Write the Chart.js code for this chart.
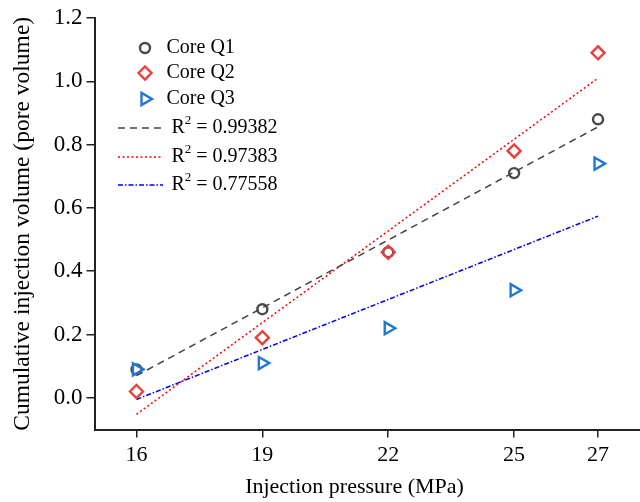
<!DOCTYPE html>
<html>
<head>
<meta charset="utf-8">
<script src="https://cdn.jsdelivr.net/npm/chart.js@4/dist/chart.umd.min.js"></script>
<style>
  html, body { margin: 0; padding: 0; background: #fff; }
  canvas { display: block; }
</style>
</head>
<body>
<canvas id="chart" width="640" height="502"></canvas>
<script>
// data
const pressure = [16, 19, 22, 25, 27];
const coreQ1 = [0.09, 0.28, 0.46, 0.71, 0.88];
const coreQ2 = [0.02, 0.19, 0.46, 0.78, 1.09];
const coreQ3 = [0.09, 0.11, 0.22, 0.34, 0.74];

// fitted lines, read at both ends
const fitX = [16, 27];
const fitQ1 = [0.07, 0.856];
const fitQ2 = [-0.052, 1.01];
const fitQ3 = [-0.005, 0.574];

const coreNames = ["Core Q1", "Core Q2", "Core Q3"];
const r2Values = ["0.99382", "0.97383", "0.77558"];
const xTicks = [16, 19, 22, 25, 27];
const yTicks = [0, 0.2, 0.4, 0.6, 0.8, 1.0, 1.2];

const serif = '"Liberation Serif", "Times New Roman", serif';
const pts = (xs, ys) => xs.map((x, i) => ({ x: x, y: ys[i] }));

const markerSets = [
  { label: coreNames[0], data: pts(pressure, coreQ1), pointStyle: 'circle', pointRadius: 5, pointRotation: 0,
    borderColor: '#4a4a4a', order: 3 },
  { label: coreNames[1], data: pts(pressure, coreQ2), pointStyle: 'rectRot', pointRadius: 6.5, pointRotation: 0,
    borderColor: '#e8423f', order: 2 },
  { label: coreNames[2], data: pts(pressure, coreQ3), pointStyle: 'triangle', pointRadius: 7, pointRotation: 90,
    borderColor: '#1f77d6', order: 1 }
].map(d => Object.assign(d, {
  showLine: false, backgroundColor: 'rgba(0,0,0,0)', borderWidth: 2.4, pointBorderWidth: 2.4,
  pointBackgroundColor: 'rgba(0,0,0,0)', pointBorderColor: d.borderColor
}));

const fitSets = [
  { label: 'fit Q1', data: pts(fitX, fitQ1), borderColor: '#444444', borderDash: [7, 5] },
  { label: 'fit Q2', data: pts(fitX, fitQ2), borderColor: '#ff0000', borderDash: [2, 2.5] },
  { label: 'fit Q3', data: pts(fitX, fitQ3), borderColor: '#0000ff', borderDash: [5, 2, 1.5, 2] }
].map(d => Object.assign(d, {
  showLine: true, pointRadius: 0, borderWidth: 1.5, fill: false, order: 5
}));

// legend drawn by hand so R² can carry a superscript
const legendPlugin = {
  id: 'handLegend',
  afterDraw(chart) {
    const ctx = chart.ctx;
    const top = chart.chartArea.top;
    const left = chart.chartArea.left;
    const rowsY = [30, 55, 81, 110, 139, 167];
    ctx.save();
    ctx.textBaseline = 'middle';
    ctx.textAlign = 'left';
    ctx.fillStyle = '#000';
    markerSets.forEach((d, i) => {
      const y = top + rowsY[i];
      ctx.strokeStyle = d.borderColor;
      ctx.fillStyle = 'rgba(0,0,0,0)';
      ctx.lineWidth = d.pointBorderWidth;
      Chart.helpers.drawPoint(ctx, {
        pointStyle: d.pointStyle, radius: d.pointRadius, rotation: d.pointRotation, borderWidth: d.pointBorderWidth
      }, left + 50.5, y);
      ctx.fillStyle = '#000';
      ctx.font = '20px ' + serif;
      ctx.fillText(d.label, left + 72, y);
    });
    fitSets.forEach((d, i) => {
      const y = top + rowsY[3 + i];
      ctx.beginPath();
      ctx.strokeStyle = d.borderColor;
      ctx.lineWidth = d.borderWidth;
      ctx.setLineDash(d.borderDash);
      ctx.moveTo(left + 23.5, y);
      ctx.lineTo(left + 68.5, y);
      ctx.stroke();
      ctx.setLineDash([]);
      ctx.fillStyle = '#000';
      let x = left + 77;
      ctx.font = '20px ' + serif;
      ctx.fillText('R', x, y);
      x += ctx.measureText('R').width;
      ctx.font = '13px ' + serif;
      ctx.fillText('2', x, y - 7);
      x += ctx.measureText('2').width;
      ctx.font = '20px ' + serif;
      ctx.fillText(' = ' + r2Values[i], x, y);
    });
    // x axis title
    ctx.font = '22px ' + serif;
    ctx.textAlign = 'center';
    ctx.fillText('Injection pressure (MPa)', left + 260, 487);
    ctx.restore();
  }
};

new Chart(document.getElementById('chart'), {
  type: 'scatter',
  data: { datasets: fitSets.concat(markerSets) },
  options: {
    responsive: false,
    animation: false,
    devicePixelRatio: 1,
    layout: { autoPadding: false, padding: { top: 18, right: 0, left: 0, bottom: 0 } },
    plugins: { legend: { display: false }, tooltip: { enabled: false } },
    scales: {
      x: {
        type: 'linear', position: 'bottom', min: 15, max: 28,
        afterBuildTicks: s => { s.ticks = xTicks.map(v => ({ value: v })); },
        afterFit: s => { s.height = 72.5; },
        ticks: { color: '#000', font: { family: serif, size: 22 }, padding: 5, callback: v => String(v) },
        grid: { drawOnChartArea: false, tickLength: 8, color: '#222', lineWidth: 1.5 },
        border: { color: '#222', width: 2 }
      },
      y: {
        type: 'linear', position: 'left', min: -0.1, max: 1.2,
        afterBuildTicks: s => { s.ticks = yTicks.map(v => ({ value: v })); },
        afterFit: s => { s.width = 94.5; },
        ticks: { color: '#000', font: { family: serif, size: 23 }, padding: 4, callback: v => v.toFixed(1) },
        grid: { drawOnChartArea: false, tickLength: 8, color: '#222', lineWidth: 1.5 },
        border: { color: '#222', width: 2 },
        title: { display: true, text: 'Cumulative injection volume (pore volume)', color: '#000',
          font: { family: serif, size: 23.5 }, padding: { top: 9, bottom: 0 } }
      }
    }
  },
  plugins: [legendPlugin]
});
</script>
</body>
</html>
